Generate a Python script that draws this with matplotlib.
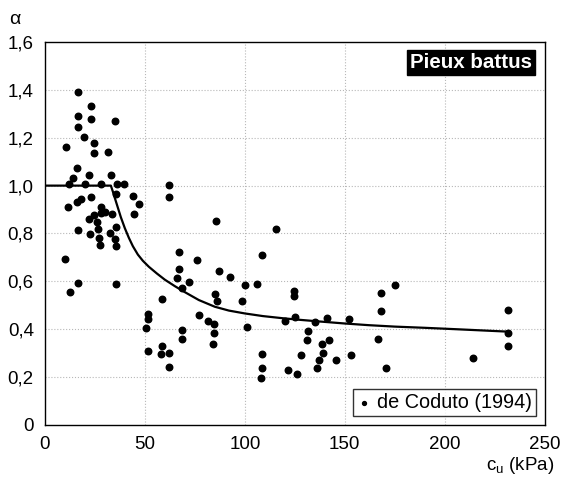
import matplotlib.pyplot as plt
import numpy as np

plt.rcParams['font.family'] = ['Liberation Sans', 'DejaVu Sans']

# Measured points (de Coduto 1994): cu (kPa), alpha
cu = [16.75, 23.3, 16.75, 23.3, 35.25, 16.5, 19.75, 24.4, 10.6, 24.4, 31.4,
      15.9, 21.9, 33.25, 13.9, 12.25, 20.25, 28.3, 36.3, 39.4, 35.4, 44.0,
      18.2, 23.3, 16.1, 11.5, 47.25, 28.1, 28.0, 30.3, 33.8, 24.5, 44.75,
      22.0, 26.3, 35.4, 26.75, 16.7, 22.8, 32.6, 27.3, 35.1, 27.4, 35.4,
      9.9, 16.7, 35.5, 12.6, 58.7, 51.6, 51.8,
      62.2, 62.2, 85.75, 115.75, 67.25, 75.9, 108.4, 67.25, 66.25, 87.25,
      92.6, 72.1, 68.4, 100.1, 106.25, 85.0, 86.3, 98.6, 124.5, 124.5,
      76.9, 81.6, 84.6, 50.75, 68.4, 68.4, 84.6, 84.25, 58.75, 51.75, 57.9,
      62.25, 62.25,
      101.2, 120.1, 124.9, 135.0, 140.9, 152.2, 131.6, 131.3, 142.2, 138.6,
      108.6, 127.9, 139.3, 136.9, 145.4, 153.3, 108.4, 121.6, 136.1, 108.2,
      126.2,
      168.2, 174.9, 168.2, 166.8, 170.6, 231.75, 231.5, 231.75, 213.9]
alpha = [1.39, 1.333, 1.29, 1.277, 1.27, 1.243, 1.204, 1.18, 1.161, 1.137, 1.141,
         1.072, 1.046, 1.046, 1.032, 1.005, 1.005, 1.005, 1.005, 1.005, 0.963, 0.955,
         0.946, 0.952, 0.931, 0.91, 0.923, 0.91, 0.887, 0.89, 0.883, 0.876, 0.882,
         0.861, 0.846, 0.826, 0.817, 0.814, 0.798, 0.804, 0.783, 0.776, 0.751, 0.748,
         0.693, 0.594, 0.588, 0.557, 0.525, 0.464, 0.444,
         1.004, 0.951, 0.851, 0.819, 0.724, 0.689, 0.711, 0.653, 0.614, 0.642,
         0.619, 0.599, 0.573, 0.583, 0.589, 0.547, 0.518, 0.518, 0.561, 0.540,
         0.458, 0.436, 0.422, 0.406, 0.398, 0.360, 0.383, 0.340, 0.331, 0.309, 0.295,
         0.299, 0.242,
         0.409, 0.435, 0.450, 0.432, 0.449, 0.441, 0.391, 0.355, 0.355, 0.339,
         0.296, 0.294, 0.300, 0.271, 0.271, 0.292, 0.237, 0.230, 0.240, 0.197,
         0.211,
         0.553, 0.585, 0.475, 0.361, 0.237, 0.481, 0.385, 0.332, 0.278]

# Design curve
curve_cu = [0, 33, 34, 35, 36.5, 38, 40, 42, 44, 46.5, 49, 52, 56, 60, 65, 70,
            77, 85, 92, 100, 109, 119, 128, 138, 150, 162, 175, 190, 206, 231.6]
curve_alpha = [1.0, 1.0, 0.975, 0.948, 0.908, 0.868, 0.822, 0.782, 0.747, 0.712,
               0.686, 0.661, 0.633, 0.607, 0.58, 0.555, 0.522, 0.494, 0.478, 0.466,
               0.455, 0.446, 0.439, 0.432, 0.424, 0.417, 0.411, 0.406, 0.400, 0.390]

xticks = [0, 50, 100, 150, 200, 250]
yticks = [0, 0.2, 0.4, 0.6, 0.8, 1.0, 1.2, 1.4, 1.6]
ylabels = ["0", "0,2", "0,4", "0,6", "0,8", "1,0", "1,2", "1,4", "1,6"]

fig = plt.figure(figsize=(5.61, 4.80), dpi=100)
ax = fig.add_axes([0.080, 0.1146, 0.891, 0.7979])

# faint dotted grid
for gx in xticks[1:-1]:
    ax.axvline(gx, color="#b8b8b8", ls=":", lw=0.8, zorder=0)
for gy in yticks[1:-1]:
    ax.axhline(gy, color="#b8b8b8", ls=":", lw=0.8, zorder=0)

ax.plot(curve_cu, curve_alpha, color="black", lw=1.6, zorder=2,
        solid_joinstyle="round")
ax.scatter(cu, alpha, s=22, color="black", zorder=3, label="de Coduto (1994)")

ax.set_xlim(0, 250)
ax.set_ylim(0, 1.6)
ax.set_xticks(xticks)
ax.set_yticks(yticks)
ax.set_yticklabels(ylabels)
ax.tick_params(length=0, labelsize=13.5, colors="black")
ax.tick_params(axis="y", pad=8)
ax.tick_params(axis="x", pad=8)
for sp in ax.spines.values():
    sp.set_linewidth(1.0)

leg = ax.legend(loc="lower right", fontsize=14.3, frameon=True, fancybox=False,
                markerscale=0.6, handletextpad=0.3, handlelength=0.7,
                borderpad=0.2, borderaxespad=0.45)
leg.get_frame().set_edgecolor("black")
leg.get_frame().set_linewidth(1.0)

ax.text(0.974, 0.972, "Pieux battus", transform=ax.transAxes, ha="right", va="top",
        color="white", fontsize=14.8, fontweight="bold",
        bbox=dict(boxstyle="square,pad=0.15", facecolor="black", edgecolor="black"))

fig.text(15 / 561, 1 - 19 / 480, "\u03b1", fontsize=14, ha="center", va="center")
fig.text(520 / 561, 1 - 466 / 480, "c$_\\mathregular{u}$ (kPa)", fontsize=13.5,
         ha="center", va="center")

fig.savefig("out.png", dpi=100)
